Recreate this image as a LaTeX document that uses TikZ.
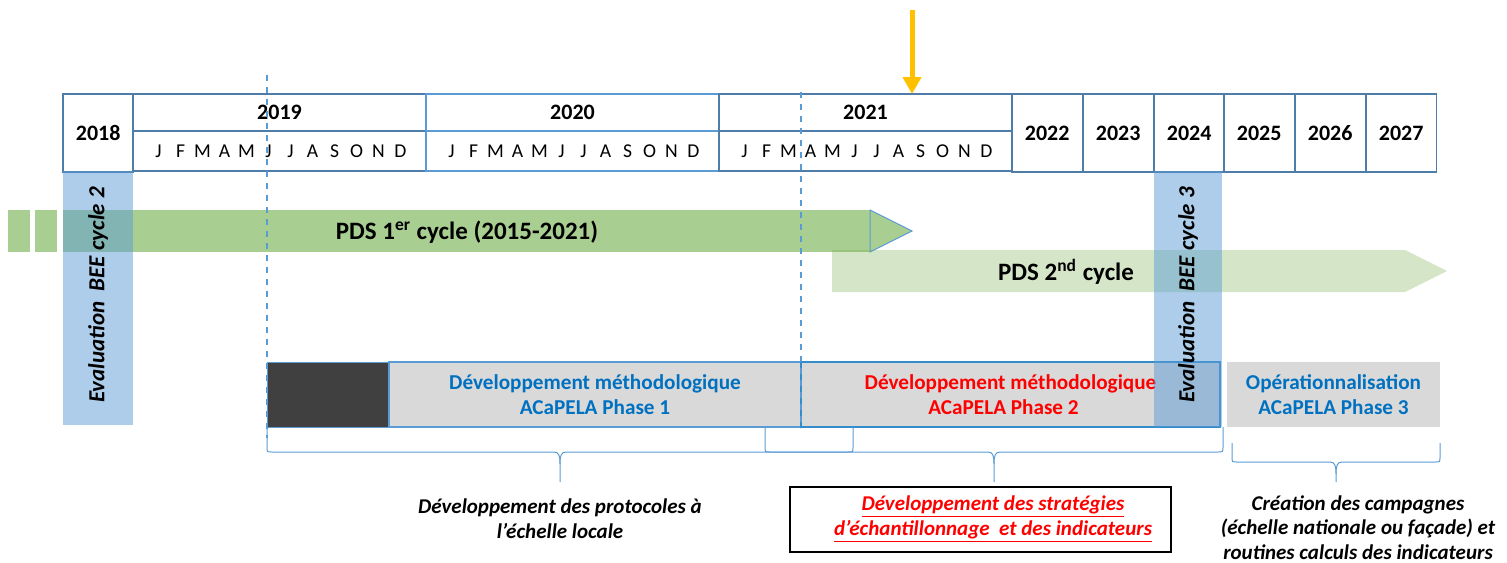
\documentclass[tikz,border=0pt]{standalone}
\usepackage{fontspec}
\setmainfont{Carlito}
\usetikzlibrary{arrows.meta,calc}

\definecolor{hdrline}{RGB}{79,125,170}
\definecolor{hdrlight}{RGB}{91,155,213}
\definecolor{beeblue}{RGB}{91,155,213}
\definecolor{pdsgreen}{RGB}{112,173,71}
\definecolor{phasegray}{RGB}{217,217,217}
\definecolor{darkblock}{RGB}{64,64,64}
\definecolor{acablue}{RGB}{0,112,192}
\definecolor{nowyellow}{RGB}{255,192,0}

\tikzset{
  yearcell/.style={draw=hdrline, fill=white, line width=0.7pt, inner sep=0pt, outer sep=0pt,
    anchor=north west, font=\fontsize{11}{13}\selectfont\bfseries},
  monthlbl/.style={inner sep=0pt, font=\fontsize{9.8}{11}\selectfont},
  phasebox/.style={fill=phasegray, inner sep=0pt, outer sep=0pt, anchor=north west,
    minimum height=32.5pt, align=center, font=\fontsize{10.6}{12.3}\selectfont\bfseries},
  beelbl/.style={rotate=90, font=\fontsize{11.5}{13}\selectfont\bfseries\itshape},
  pdslbl/.style={font=\fontsize{12.5}{14}\selectfont\bfseries},
  notelbl/.style={align=center, font=\fontsize{10.5}{12.4}\selectfont\bfseries\itshape},
  curly/.style={hdrlight, line width=0.5pt}
}

% brace pointing down: x left, x right, y top, y middle, y tip
\newcommand{\curlybrace}[5]{%
  \draw[curly] (#1,#3) -- (#1,#4+5) .. controls (#1,#4) .. ({#1+5},#4)
    -- ({(#1+#2)/2-6},#4) .. controls ({(#1+#2)/2-1},#4) and ({(#1+#2)/2},#4-4) .. ({(#1+#2)/2},#4-12) -- ({(#1+#2)/2},#5);
  \draw[curly] (#2,#3) -- (#2,#4+5) .. controls (#2,#4) .. ({#2-5},#4)
    -- ({(#1+#2)/2+6},#4) .. controls ({(#1+#2)/2+1},#4) and ({(#1+#2)/2},#4-4) .. ({(#1+#2)/2},#4-12);
}

\begin{document}
\begin{tikzpicture}[x=0.5pt,y=0.5pt]
  \useasboundingbox (0,0) rectangle (1507,-562);

  % PDS cycles
  \fill[pdsgreen, opacity=0.6] (8,-210) rectangle (30,-252);
  \fill[pdsgreen, opacity=0.6] (35,-210) rectangle (57,-252);
  \fill[pdsgreen, opacity=0.6] (63,-210) rectangle (870,-252);
  \draw[hdrlight, line width=0.5pt, fill=pdsgreen, fill opacity=0.6] (870,-210) -- (912,-231) -- (870,-252) -- cycle;
  \fill[pdsgreen, opacity=0.3] (832,-250) -- (1405,-250) -- (1447,-271) -- (1405,-292) -- (832,-292) -- cycle;
  \node[pdslbl] (pds1) at (467,-232) {PDS 1\textsuperscript{er} cycle (2015-2021)};
  \node[pdslbl] (pds2) at (1066,-272) {PDS 2\textsuperscript{nd} cycle};

  % Header: single years
  \foreach \yr/\xa in {2018/63,2022/1012,2023/1083,2024/1154,2025/1224,2026/1295,2027/1366}
    \node[yearcell, minimum width=35.2pt, minimum height=39pt] (y\yr) at (\xa,-94) {\yr};
  % Header: years with months
  \foreach \yr/\xa/\col in {2019/133/hdrline,2020/426/hdrlight,2021/719/hdrline}{
    \node[yearcell, draw=\col, minimum width=146.5pt, minimum height=18.5pt] (y\yr) at (\xa,-94) {\yr};
    \draw[\col, line width=0.7pt] (y\yr.south west) rectangle ++(293,-40);
    \foreach \m [count=\i] in {J,F,M,A,M,J,J,A,S,O,N,D}
      \node[monthlbl] (m\yr-\i) at ({\xa+146.5+(\i-6.5)*22},-151) {\m};
  }

  % Now
  \coordinate (now) at (912,-10);
  \draw[nowyellow, line width=2.5pt, -{Triangle[width=9pt,length=8.5pt]}] (now) -- (now |- y2021.north);

  % ACaPELA phases
  \node[phasebox, fill=darkblock, draw=hdrlight, line width=0.5pt, minimum width=61pt] (prep) at (267,-362) {};
  \node[phasebox, draw=hdrlight, line width=0.7pt, minimum width=206pt, text=acablue] (phase1) at (prep.north east)
    {Développement méthodologique\\ACaPELA Phase 1};
  \node[phasebox, draw=acablue!80, line width=0.8pt, minimum width=209.5pt, text=red] (phase2) at (phase1.north east)
    {Développement méthodologique\\ACaPELA Phase 2\hspace*{7pt}};
  \node[phasebox, minimum width=106.5pt, text=acablue] (phase3) at (1227,-362)
    {Opérationnalisation\\ACaPELA Phase 3};

  % Evaluation BEE
  \fill[beeblue, opacity=0.5] (63,-171) rectangle (133,-425);
  \fill[beeblue, opacity=0.5] (1154,-171) rectangle (1222,-427);
  \node[beelbl] (bee2) at (98,-295) {Evaluation\ \ BEE cycle 2};
  \node[beelbl] (bee3) at (1188,-295) {Evaluation\ \ BEE cycle 3};

  % Dashed guides
  \draw[hdrlight, dashed, line width=0.6pt] (267,-75) -- (267,-438);
  \draw[hdrlight, dashed, line width=0.6pt] (801,-92) -- (801,-428);

  % Braces
  \curlybrace{267}{853}{-427}{-452}{-482}
  \curlybrace{765}{1223}{-427}{-452}{-482}
  \curlybrace{1232}{1440}{-443}{-462}{-482}

  % Notes
  \node[notelbl] (protocols) at (560,-518.5) {Développement des protocoles à\\l’échelle locale};
  \node[draw=black, line width=0.8pt, minimum width=190.5pt, minimum height=32.5pt, anchor=north west] (stratbox) at (789,-486) {};
  \node[notelbl, text=red] (strategies) at (993,-519)
    {\underline{Développement des stratégies}\\\underline{d’échantillonnage\ \ et des indicateurs}};
  \node[notelbl] (campaigns) at (1358,-527.5) {Création des campagnes\\(échelle nationale ou façade) et\\routines calculs des indicateurs};
\end{tikzpicture}
\end{document}
